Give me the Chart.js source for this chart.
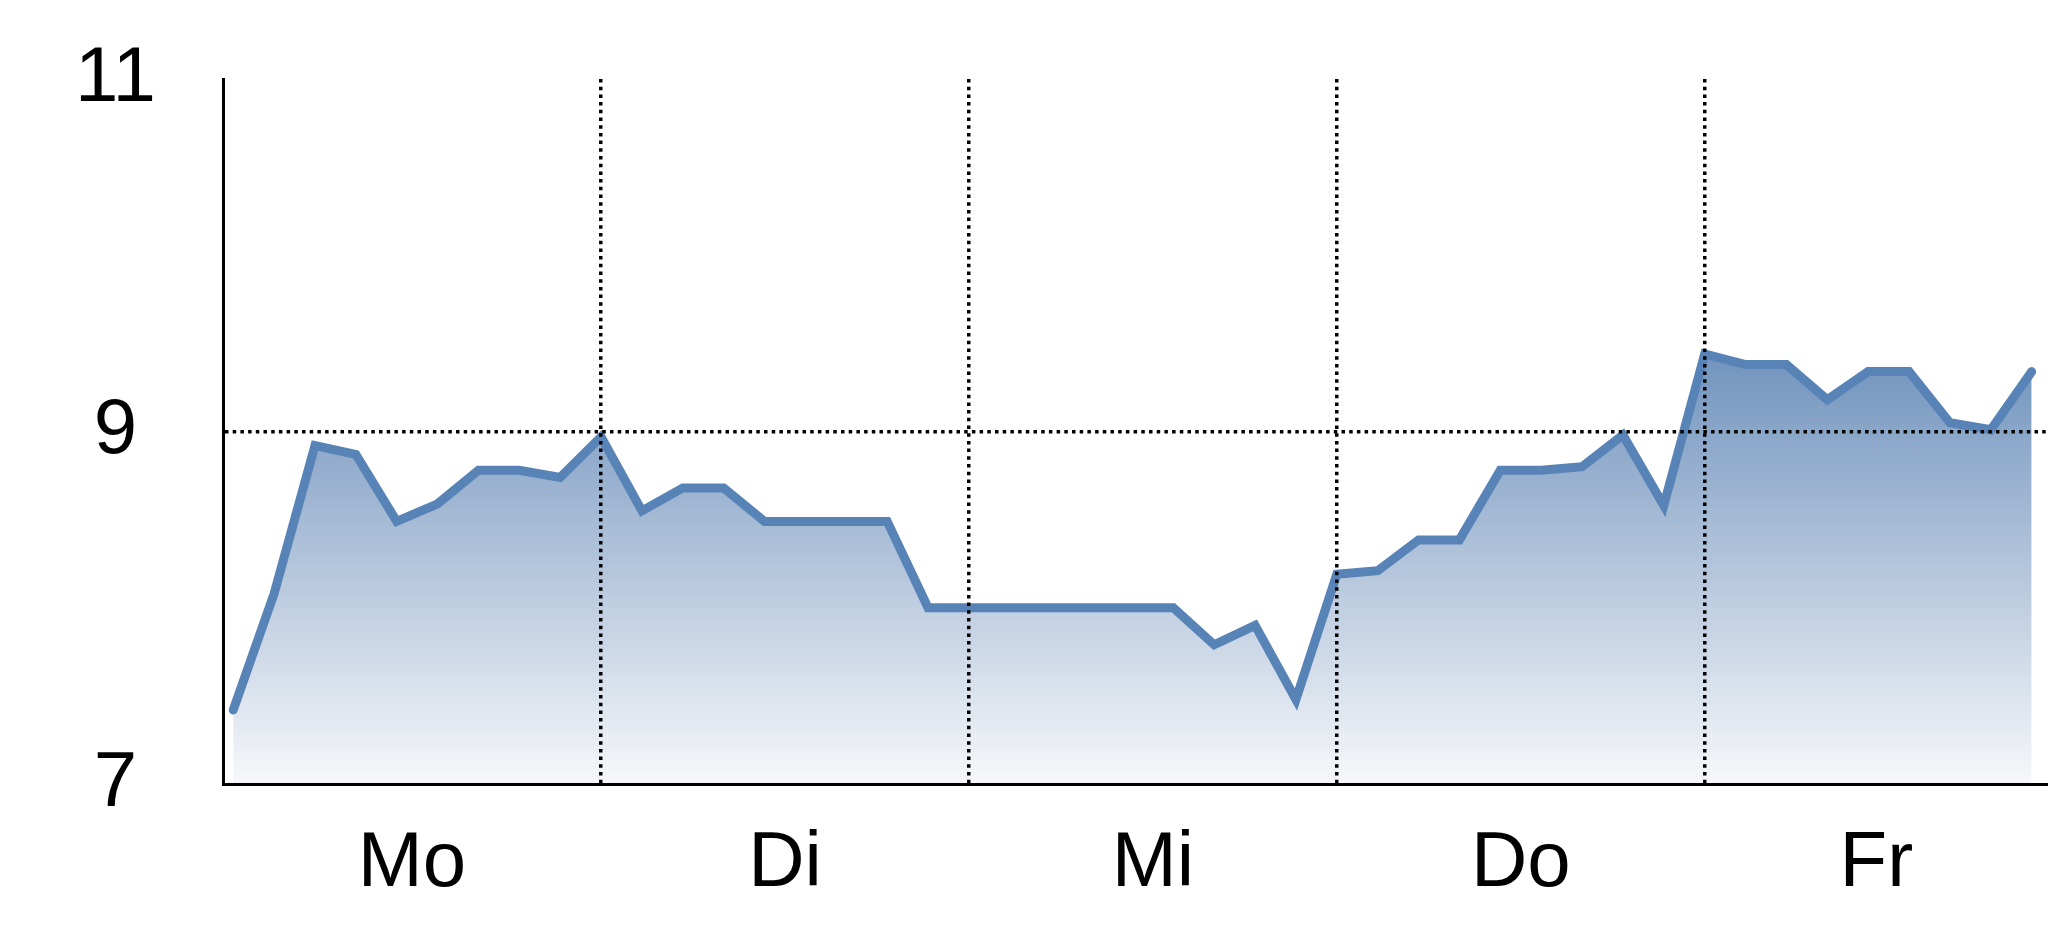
<!DOCTYPE html>
<html>
<head>
<meta charset="utf-8">
<script src="https://cdn.jsdelivr.net/npm/chart.js@4/dist/chart.umd.min.js"></script>
<style>
  html, body { margin: 0; padding: 0; background: #fff; }
  #wrap { width: 2048px; height: 937px; }
</style>
</head>
<body>
<div id="wrap"><canvas id="myChart"></canvas></div>
<script>
const days = ["Mo", "Di", "Mi", "Do", "Fr"];
const dayBreaks = [9, 18, 27, 36];
const yTicks = [7, 9, 11];
const values = [
  7.42, 8.08, 8.92, 8.87, 8.49, 8.59, 8.78, 8.78, 8.74, 8.97,
  8.55, 8.68, 8.68, 8.49, 8.49, 8.49, 8.49, 8.0, 8.0, 8.0,
  8.0, 8.0, 8.0, 8.0, 7.79, 7.9, 7.48, 8.19, 8.21, 8.385,
  8.385, 8.78, 8.78, 8.8, 8.98, 8.58, 9.44, 9.38, 9.38, 9.18,
  9.34, 9.34, 9.05, 9.01, 9.34,
];

const xMin = -0.25;
const xMax = 44.4;
const font = { family: "'Liberation Sans', Arial, sans-serif", size: 78 };
const dots = [3.5, 4.2];

// day labels sit in the middle of each day block
const edges = [xMin, ...dayBreaks, xMax];
const dayMid = days.map((d, i) => (edges[i] + edges[i + 1]) / 2);

const points = values.map((v, i) => ({ x: i, y: v }));

const fillGradient = (context) => {
  const chart = context.chart;
  const area = chart.chartArea;
  if (!area) return "rgba(110,145,188,0.6)";
  const top = chart.scales.y.getPixelForValue(9.5);
  const g = chart.ctx.createLinearGradient(0, top, 0, area.bottom);
  g.addColorStop(0, "rgb(110,145,188)");
  g.addColorStop(1, "rgb(247,248,250)");
  return g;
};

const ctx = document.getElementById("myChart");
const myChart = new Chart(ctx, {
  type: "line",
  data: {
    datasets: [
      {
        data: points,
        borderColor: "rgb(88,131,182)",
        borderWidth: 9,
        borderCapStyle: "round",
        borderJoinStyle: "miter",
        backgroundColor: fillGradient,
        fill: "start",
        pointRadius: 0,
        tension: 0,
      },
    ],
  },
  options: {
    responsive: true,
    maintainAspectRatio: false,
    animation: false,
    layout: { padding: { top: 79, right: 0, bottom: 0, left: 0 } },
    plugins: { legend: { display: false }, tooltip: { enabled: false } },
    scales: {
      x: {
        type: "linear",
        min: xMin,
        max: xMax,
        afterBuildTicks: (s) => { s.ticks = dayBreaks.map((v) => ({ value: v })); },
        afterFit: (s) => { s.height = 0; },
        ticks: { display: false },
        grid: { color: "#000", lineWidth: 3.5, drawTicks: false, z: 1 },
        border: { display: true, color: "#000", width: 3, dash: dots, z: 1 },
      },
      xl: {
        type: "linear",
        position: "bottom",
        min: xMin,
        max: xMax,
        afterBuildTicks: (s) => { s.ticks = dayMid.map((v) => ({ value: v })); },
        afterFit: (s) => { s.height = 153; },
        ticks: {
          color: "#000",
          font: font,
          padding: 34,
          maxRotation: 0,
          autoSkip: false,
          callback: (v, i) => days[i],
        },
        grid: { display: false, drawTicks: false },
        border: { display: false },
      },
      y: {
        min: 7,
        max: 11,
        afterBuildTicks: (s) => { s.ticks = yTicks.map((v) => ({ value: v })); },
        afterFit: (s) => {
          s.width = 223;
          s.paddingTop = 40;
          s.paddingBottom = 40;
        },
        ticks: { color: "#000", font: font, padding: 67, crossAlign: "center" },
        grid: {
          drawTicks: false,
          lineWidth: 3.5,
          z: 1,
          color: (c) => (c.tick && c.tick.value === 9 ? "#000" : "rgba(0,0,0,0)"),
        },
        border: { display: true, color: "#000", width: 3, dash: dots, z: 1 },
      },
    },
  },
});
</script>
</body>
</html>
